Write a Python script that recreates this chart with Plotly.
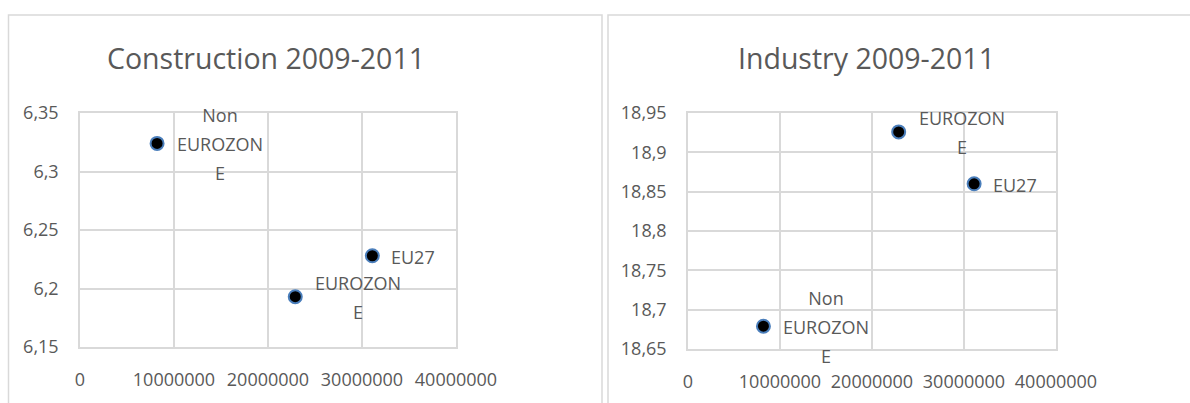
import plotly.graph_objects as go

# ---- data ----
labels = ["Non EUROZONE", "EUROZONE", "EU27"]
label_lines = [["Non", "EUROZON", "E"], ["EUROZON", "E"], ["EU27"]]
x_values = [8200000, 22900000, 31100000]
construction_values = [6.324, 6.193, 6.228]
industry_values = [18.679, 18.926, 18.860]
titles = ["Construction 2009-2011", "Industry 2009-2011"]
x_ticks = [0, 10000000, 20000000, 30000000, 40000000]
construction_ticks = [6.15, 6.2, 6.25, 6.3, 6.35]
industry_ticks = [18.65, 18.7, 18.75, 18.8, 18.85, 18.9, 18.95]

W, H = 1190, 403
FONT = "Open Sans"
TXT = "#595959"
GRID = "#d9d9d9"

fig = go.Figure()

panels = [
    dict(xa="x", ya="y", yvals=construction_values, yticks=construction_ticks,
         xdom=[80 / W, 456 / W], ydom=[1 - 347 / H, 1 - 113 / H], title=titles[0], tx=266),
    dict(xa="x2", ya="y2", yvals=industry_values, yticks=industry_ticks,
         xdom=[688 / W, 1056 / W], ydom=[1 - 349 / H, 1 - 113 / H], title=titles[1], tx=866),
]

annotations = []
for i, p in enumerate(panels):
    fig.add_trace(go.Scatter(
        x=x_values, y=p["yvals"], mode="markers", xaxis=p["xa"], yaxis=p["ya"],
        marker=dict(size=13, color="black", line=dict(color="#4a7ebb", width=2)),
        showlegend=False, hoverinfo="x+y",
    ))
    for xv, yv, lines in zip(x_values, p["yvals"], label_lines):
        n = len(lines)
        multi = n > 1
        for j, line in enumerate(lines):
            annotations.append(dict(
                x=xv, y=yv, xref=p["xa"], yref=p["ya"], text=line, showarrow=False,
                xanchor="left", yanchor="middle", xshift=17,
                yshift=((n - 1) / 2 - j) * 29 - 1,
                width=88 if multi else None, align="center" if multi else "left",
                font=dict(family=FONT, size=18, color=TXT),
            ))
    annotations.append(dict(
        x=p["tx"] / W, y=1 - 58 / H, xref="paper", yref="paper", text=p["title"],
        showarrow=False, xanchor="center", yanchor="middle",
        font=dict(family=FONT, size=28.5, color=TXT),
    ))

axis_common = dict(showgrid=True, gridcolor=GRID, gridwidth=1.5, showline=True, linecolor=GRID,
                   linewidth=1.5, mirror=True, zeroline=False, ticks="", fixedrange=True,
                   automargin=False, tickfont=dict(family=FONT, size=18, color=TXT))

shapes = [
    dict(type="rect", xref="paper", yref="paper", x0=8.5 / W, x1=602 / W, y0=-0.05, y1=1 - 15 / H,
         line=dict(color=GRID, width=1.5)),
    dict(type="rect", xref="paper", yref="paper", x0=608 / W, x1=1.05, y0=-0.05, y1=1 - 15 / H,
         line=dict(color=GRID, width=1.5)),
]

layout = dict(
    width=W, height=H, margin=dict(l=0, r=0, t=0, b=0, pad=0, autoexpand=False),
    paper_bgcolor="white", plot_bgcolor="white", separators=", ",
    annotations=annotations, shapes=shapes,
)
for i, p in enumerate(panels):
    sfx = "" if i == 0 else "2"
    layout["xaxis" + sfx] = dict(axis_common, domain=p["xdom"], range=[x_ticks[0], x_ticks[-1]],
                                 tickvals=x_ticks, tickformat="d", ticklabelstandoff=16,
                                 anchor="y" + sfx)
    layout["yaxis" + sfx] = dict(axis_common, domain=p["ydom"], range=[p["yticks"][0], p["yticks"][-1]],
                                 tickvals=p["yticks"], ticklabelstandoff=16, anchor="x" + sfx)

fig.update_layout(**layout)
fig.write_html("out.html", config={"displayModeBar": False},
               post_script="document.body.style.margin='0';document.body.style.overflow='hidden';")
